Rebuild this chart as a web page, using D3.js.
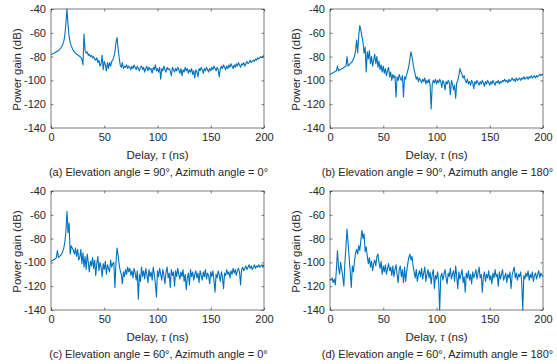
<!DOCTYPE html>
<html>
<head>
<meta charset="utf-8">
<script src="https://cdn.jsdelivr.net/npm/d3@7"></script>
<style>
  body { margin: 0; background: #fff; }
  text { font-family: "Liberation Sans", Arial, sans-serif; fill: #262626; }
</style>
</head>
<body>
<div id="vis"></div>
<script>
// delay axis in ns, one sample per ns
var delay = d3.range(0, 201);
var xTicks = [0, 50, 100, 150, 200];
var yTicks = [-40, -60, -80, -100, -120, -140];

var gainA = [-78,-78,-77.5,-77,-76.5,-76,-75.5,-75,-74,-73,-71.5,-70,-67,-62,-52,-40,-54,-63,-68,-71,
  -73,-75,-76,-77,-78,-78.5,-79,-80,-80.5,-82,-87,-61,-75,-77,-76,-79,-78,-80,-79,-81,
  -80,-82,-83,-81,-85,-83,-88,-86,-79,-91,-84,-87,-92,-85,-90,-85,-88,-84,-83,-80,
  -76,-68,-64,-73,-81,-87,-89,-85,-90,-88,-89,-87,-90,-88,-89,-91,-88,-90,-87,-89,
  -91,-88,-90,-92,-89,-88,-91,-89,-93,-90,-88,-92,-89,-91,-90,-94,-89,-91,-87,-92,
  -90,-93,-89,-99,-90,-92,-88,-91,-93,-89,-91,-90,-92,-96,-89,-91,-93,-90,-92,-89,
  -91,-94,-90,-96,-91,-93,-89,-92,-90,-94,-91,-93,-90,-95,-92,-98,-91,-93,-97,-90,
  -92,-89,-91,-94,-90,-92,-89,-91,-93,-90,-92,-89,-91,-88,-90,-92,-89,-91,-97,-90,
  -88,-90,-87,-89,-91,-88,-90,-87,-89,-86,-88,-90,-87,-89,-86,-88,-85,-87,-89,-86,
  -87,-85,-88,-86,-84,-86,-85,-83,-85,-84,-83,-84,-82,-83,-81,-82,-81,-80,-81,-80,-79];

var gainB = [-95,-94.5,-94,-93.5,-93,-92.5,-92,-88,-92,-91,-91,-90,-90,-89,-88.5,-88,-80,-88,-87,-86,
  -85,-84,-82,-80,-75,-66,-77,-62,-54,-58,-63,-68,-77,-72,-93,-76,-82,-75,-86,-80,
  -88,-83,-78,-86,-80,-89,-84,-91,-87,-93,-88,-94,-90,-96,-92,-89,-97,-93,-100,-95,
  -98,-96,-114,-97,-100,-95,-98,-100,-96,-114,-97,-99,-95,-92,-88,-82,-76,-80,-86,-91,
  -95,-99,-97,-101,-98,-100,-102,-99,-101,-98,-103,-100,-102,-99,-104,-124,-103,-100,-102,-99,
  -103,-100,-102,-99,-101,-106,-100,-102,-108,-101,-103,-100,-102,-112,-100,-103,-108,-104,-115,-102,
  -100,-96,-90,-93,-95,-98,-96,-100,-102,-99,-103,-101,-104,-100,-102,-107,-101,-103,-100,-102,
  -104,-101,-103,-100,-102,-105,-101,-103,-100,-102,-104,-101,-103,-100,-102,-104,-101,-102,-100,-103,
  -101,-102,-100,-101,-99,-101,-100,-102,-99,-101,-100,-98,-100,-99,-101,-98,-100,-99,-98,-100,
  -98,-99,-97,-99,-98,-97,-99,-97,-98,-96,-98,-97,-96,-98,-96,-97,-96,-95,-96,-95,-95];

var gainC = [-99,-98.5,-98,-97.5,-97,-96,-90,-96,-95,-94,-93,-91,-88,-83,-74,-57,-75,-67,-93,-86,
  -88,-90,-93,-88,-95,-89,-98,-96,-89,-101,-92,-104,-95,-106,-93,-100,-108,-99,-103,-96,
  -105,-98,-111,-101,-95,-107,-100,-104,-112,-101,-106,-99,-110,-102,-105,-108,-98,-104,-101,-100,
  -121,-100,-88,-94,-102,-107,-110,-118,-108,-112,-106,-110,-104,-108,-105,-111,-107,-113,-105,-109,
  -115,-107,-131,-110,-116,-104,-112,-107,-114,-105,-110,-117,-106,-112,-108,-115,-104,-110,-118,-129,
  -107,-112,-105,-110,-115,-106,-111,-118,-108,-104,-113,-109,-121,-106,-111,-108,-120,-107,-112,-105,
  -110,-114,-108,-112,-106,-116,-110,-123,-113,-109,-119,-106,-112,-108,-115,-110,-107,-113,-109,-117,
  -107,-111,-115,-108,-112,-106,-114,-109,-111,-118,-108,-112,-107,-115,-125,-110,-113,-107,-111,-116,
  -108,-112,-122,-109,-111,-106,-110,-108,-113,-107,-110,-105,-109,-106,-111,-107,-105,-108,-119,-106,
  -104,-107,-105,-103,-106,-104,-102,-105,-103,-106,-104,-102,-105,-103,-104,-102,-104,-103,-102,-104,-102];

var gainD = [-114,-115,-113,-117,-114,-119,-106,-90,-104,-110,-100,-106,-112,-120,-100,-86,-72,-84,-96,-108,
  -121,-103,-108,-99,-92,-89,-93,-86,-90,-81,-73,-80,-76,-91,-87,-95,-101,-96,-104,-99,
  -107,-101,-98,-103,-95,-93,-100,-105,-99,-110,-103,-108,-102,-110,-105,-101,-107,-104,-111,-103,
  -112,-106,-102,-110,-117,-106,-103,-112,-106,-117,-104,-116,-108,-101,-96,-93,-98,-95,-103,-108,
  -113,-106,-116,-110,-107,-112,-105,-114,-109,-104,-116,-110,-106,-113,-108,-118,-110,-106,-122,-111,
  -114,-108,-116,-140,-112,-109,-115,-110,-106,-113,-118,-109,-112,-105,-114,-110,-107,-116,-103,-112,
  -122,-108,-114,-110,-106,-117,-112,-125,-109,-113,-107,-115,-110,-118,-108,-113,-110,-106,-114,-109,
  -104,-113,-110,-125,-112,-108,-116,-110,-113,-107,-115,-111,-118,-109,-113,-106,-112,-110,-120,-108,
  -114,-110,-106,-115,-112,-109,-117,-110,-113,-108,-122,-111,-107,-104,-113,-109,-115,-110,-112,-108,
  -116,-140,-111,-114,-109,-112,-107,-115,-110,-113,-108,-116,-111,-109,-114,-110,-107,-113,-109,-111,-112];

var captions = [
  "(a) Elevation angle = 90°, Azimuth angle = 0°",
  "(b) Elevation angle = 90°, Azimuth angle = 180°",
  "(c) Elevation angle = 60°, Azimuth angle = 0°",
  "(d) Elevation angle = 60°, Azimuth angle = 180°"
];
var series = [gainA, gainB, gainC, gainD];

var width = 557, height = 364;
var svg = d3.select("#vis").append("svg")
  .attr("width", width)
  .attr("height", height);

var plotW = 213, plotH = 119;
var origins = [[51, 9], [330, 9], [51, 191], [330, 191]];
var fmt = function(d) { return String(d); };

series.forEach(function(vals, i) {
  var ox = origins[i][0], oy = origins[i][1];
  var g = svg.append("g").attr("transform", "translate(" + ox + "," + oy + ")");

  var x = d3.scaleLinear().domain([0, 200]).range([0, plotW]);
  var y = d3.scaleLinear().domain([-140, -40]).range([plotH, 0]);

  var line = d3.line()
    .x(function(d, j) { return x(delay[j]); })
    .y(function(d) { return y(d); });

  g.append("path")
    .datum(vals)
    .attr("fill", "none")
    .attr("stroke", "#0072BD")
    .attr("stroke-width", 1.1)
    .attr("stroke-linejoin", "round")
    .attr("d", line);

  // axes with inward ticks, mirrored on top and right
  var axes = [
    [d3.axisBottom(x).tickValues(xTicks).tickFormat(fmt), "translate(0," + plotH + ")"],
    [d3.axisTop(x).tickValues(xTicks).tickFormat(""), "translate(0,0)"],
    [d3.axisLeft(y).tickValues(yTicks).tickFormat(fmt), "translate(0,0)"],
    [d3.axisRight(y).tickValues(yTicks).tickFormat(""), "translate(" + plotW + ",0)"]
  ];
  axes.forEach(function(a) {
    var ag = g.append("g")
      .attr("transform", a[1])
      .call(a[0].tickSizeInner(-2.5).tickSizeOuter(0).tickPadding(5));
    ag.select(".domain").remove();
    ag.selectAll("line").attr("stroke", "#262626").attr("stroke-width", 0.6);
    ag.selectAll("text")
      .attr("font-size", 11)
      .attr("fill", "#262626")
      .style("font-family", "'Liberation Sans', Arial, sans-serif");
  });

  g.append("rect")
    .attr("width", plotW)
    .attr("height", plotH)
    .attr("fill", "none")
    .attr("stroke", "#262626")
    .attr("stroke-width", 0.6);

  g.append("text")
    .attr("transform", "translate(-30," + (plotH / 2 + 1) + ") rotate(-90)")
    .attr("text-anchor", "middle")
    .attr("font-size", 11.5)
    .text("Power gain (dB)");

  var xl = g.append("text")
    .attr("x", plotW / 2)
    .attr("y", plotH + 31)
    .attr("text-anchor", "middle")
    .attr("font-size", 11.5);
  xl.append("tspan").text("Delay, ");
  xl.append("tspan")
    .style("font-family", "'Liberation Serif', 'DejaVu Serif', serif")
    .attr("font-style", "italic")
    .text("τ");
  xl.append("tspan").text(" (ns)");

  g.append("text")
    .attr("x", plotW / 2 + 1)
    .attr("y", plotH + 48)
    .attr("text-anchor", "middle")
    .attr("font-size", 11)
    .text(captions[i]);
});
</script>
</body>
</html>
